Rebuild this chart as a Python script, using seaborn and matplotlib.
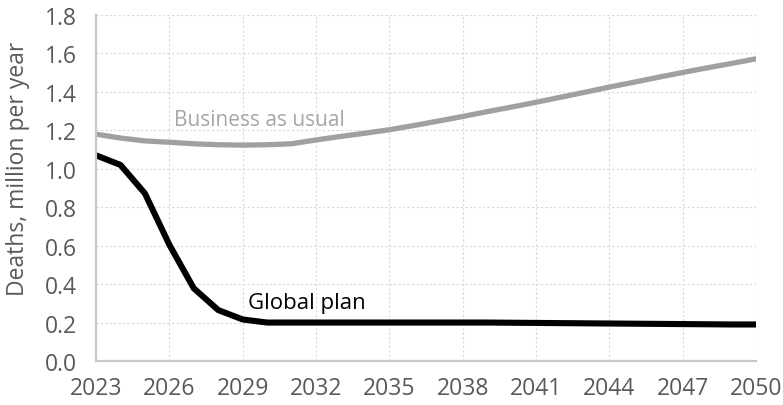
import numpy as np
import pandas as pd
import matplotlib
matplotlib.use("Agg")
import matplotlib.pyplot as plt
import seaborn as sns

# ---------------------------
# Data
# ---------------------------
years = list(range(2023, 2051))
business_as_usual = [1.18, 1.16, 1.145, 1.138, 1.13, 1.125, 1.123, 1.125, 1.13,
                     1.15, 1.168, 1.185, 1.203, 1.225, 1.248, 1.272, 1.297,
                     1.321, 1.346, 1.372, 1.398, 1.425, 1.45, 1.476, 1.501,
                     1.525, 1.548, 1.572]
global_plan = [1.07, 1.02, 0.872, 0.605, 0.378, 0.265, 0.216, 0.2, 0.2, 0.2,
               0.2, 0.2, 0.2, 0.2, 0.2, 0.2, 0.2, 0.199, 0.198, 0.197, 0.196,
               0.195, 0.194, 0.193, 0.192, 0.191, 0.19, 0.19]
x_ticks = list(range(2023, 2051, 3))
y_ticks = [0.0, 0.2, 0.4, 0.6, 0.8, 1.0, 1.2, 1.4, 1.6, 1.8]

df = pd.DataFrame({"year": years, "bau": business_as_usual, "plan": global_plan})

sns.set_style("white")
plt.rcParams["font.family"] = ["Open Sans", "DejaVu Sans"]

fig = plt.figure(figsize=(7.83, 4.06), dpi=100)
ax = fig.add_axes([0.1226, 0.1084, 0.9655 - 0.1226, 0.9606 - 0.1084])

sns.lineplot(data=df, x="year", y="bau", ax=ax, color="#a0a0a0", linewidth=3.8,
             solid_capstyle="round")
sns.lineplot(data=df, x="year", y="plan", ax=ax, color="black", linewidth=4.4,
             solid_capstyle="round")

ax.set_xlim(2023, 2050)
ax.set_ylim(0, 1.8)
ax.set_xticks(x_ticks)
ax.set_yticks(y_ticks)
ax.set_yticklabels([f"{v:.1f}" for v in y_ticks])
ax.tick_params(axis="both", length=0, labelsize=16.5, labelcolor="#595959")
ax.tick_params(axis="x", pad=11)
ax.tick_params(axis="y", pad=14)
ax.grid(True, linestyle=(0, (2, 2)), color="#d9d9d9", linewidth=0.8)
ax.set_axisbelow(True)

for side in ["top", "right"]:
    ax.spines[side].set_visible(False)
for side in ["left", "bottom"]:
    ax.spines[side].set_color("#c8c8c8")
    ax.spines[side].set_linewidth(1.6)

ax.set_xlabel("")
ax.set_ylabel("Deaths, million per year", fontsize=16.5, color="#595959")
ax.yaxis.set_label_coords(-0.1, 0.558)

ax.text(2026.2, 1.255, "Business as usual", fontsize=15, color="#a6a6a6",
        va="center", ha="left")
ax.text(2029.2, 0.305, "Global plan", fontsize=16, color="black",
        va="center", ha="left")

fig.savefig("out.png", dpi=100)
